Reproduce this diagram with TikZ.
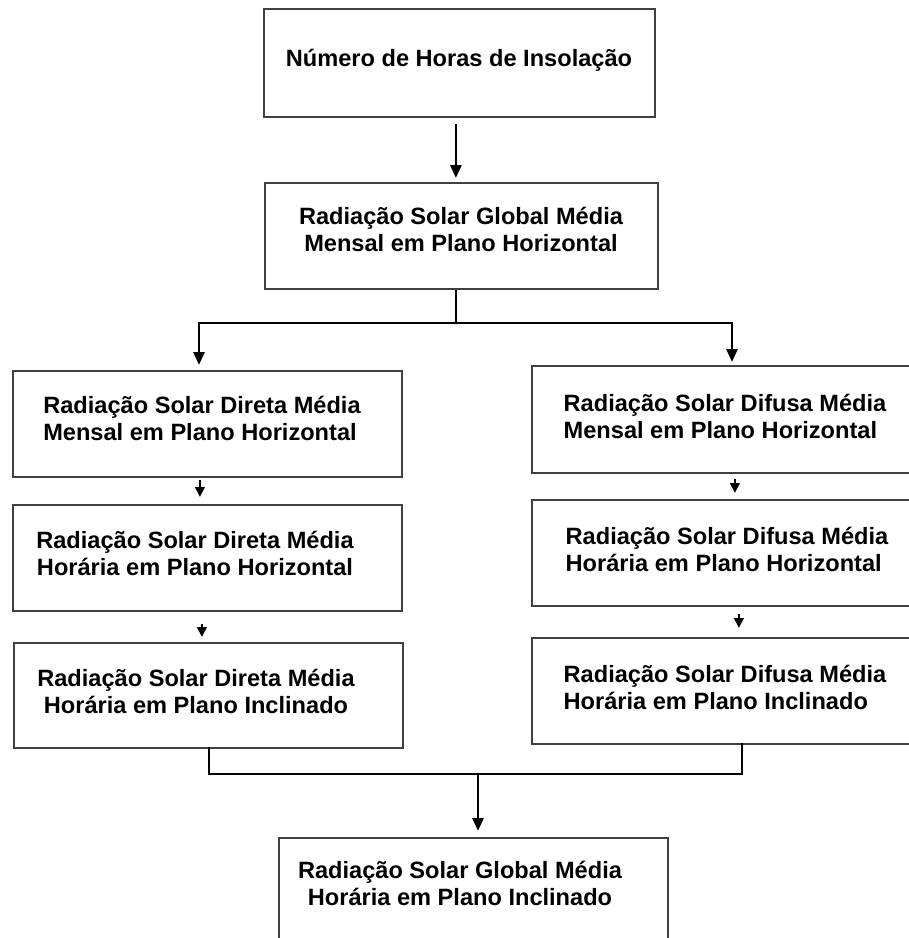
\documentclass[tikz,border=0pt]{standalone}
\usepackage{fontspec}
\setmainfont{Liberation Sans}
\usetikzlibrary{arrows.meta}
\definecolor{frame}{HTML}{404040}
\tikzset{
  box/.style={draw=frame, line width=1.8pt, rectangle, anchor=north west,
    inner sep=0pt, fill=none},
  txt/.style={font=\fontsize{23.6}{27}\selectfont\bfseries, align=center,
    inner sep=0pt, text=black},
  ltxt/.style={txt, align=left},
  link/.style={draw=black, line width=2.8pt},
  arr/.style={link, -{Triangle[width=11pt,length=13pt]}},
  sarr/.style={link, -{Triangle[width=9.5pt,length=10pt]}},
}
\begin{document}
\begin{tikzpicture}[x=1pt, y=-1pt]
\useasboundingbox (0,0) rectangle (909,938);
\clip (0,0) rectangle (909,938);
\fill[white] (0,0) rectangle (909,938);

% boxes (top-left corner, width, height)
\node[box, minimum width=391pt, minimum height=108pt] (top) at (263,8) {};
\node[box, minimum width=393pt, minimum height=106pt] (glob) at (264,182) {};
\node[box, minimum width=389pt, minimum height=106pt] (l1) at (12,370) {};
\node[box, minimum width=389pt, minimum height=106pt] (l2) at (12,504) {};
\node[box, minimum width=389pt, minimum height=105pt] (l3) at (13,642) {};
\node[box, minimum width=409pt, minimum height=107pt] (r1) at (531,365) {};
\node[box, minimum width=409pt, minimum height=106pt] (r2) at (531,499) {};
\node[box, minimum width=409pt, minimum height=106pt] (r3) at (531,637) {};
\node[box, minimum width=389pt, minimum height=130pt] (bot) at (278,837) {};

% labels
\node[txt] (ttop) at (459,60) {Número de Horas de Insolação};
\node[txt] (tglob) at (461,229) {Radiação Solar Global Média\\Mensal em Plano Horizontal};
\node[ltxt] (tl1) at (202,418) {Radiação Solar Direta Média\\Mensal em Plano Horizontal};
\node[txt] (tl2) at (195,553) {Radiação Solar Direta Média\\Horária em Plano Horizontal};
\node[txt] (tl3) at (196,691) {Radiação Solar Direta Média\\Horária em Plano Inclinado};
\node[ltxt] (tr1) at (725,416) {Radiação Solar Difusa Média\\Mensal em Plano Horizontal};
\node[ltxt] (tr2) at (727,549) {Radiação Solar Difusa Média\\Horária em Plano Horizontal};
\node[ltxt] (tr3) at (725,687) {Radiação Solar Difusa Média\\Horária em Plano Inclinado};
\node[txt] (tbot) at (460,883) {Radiação Solar Global Média\\Horária em Plano Inclinado};

% junction points of the connectors
\coordinate (bj) at (456,323);
\coordinate (bl) at (199,323);
\coordinate (br) at (732,323);
\coordinate (ml) at (209,774);
\coordinate (mr) at (742,774);
\coordinate (mj) at (478,774);

% top arrow
\draw[arr, shorten <=6pt, shorten >=4pt] ([xshift=-3.5pt]top.south) -- ([xshift=-5.5pt]glob.north);

% branching into direct and diffuse
\draw[link] (glob.south -| bj) -- (bj);
\draw[link, line cap=rect] (bl) -- (br);
\draw[arr, shorten >=5pt] (bl) -- (bl |- l1.north);
\draw[arr, shorten >=3pt] (br) -- (br |- r1.north);

% left column
\draw[sarr, shorten <=2pt, shorten >=7pt] ([xshift=-7.5pt]l1.south) -- ([xshift=-7.5pt]l2.north);
\draw[sarr, shorten <=12pt, shorten >=5pt] ([xshift=-5.5pt]l2.south) -- ([xshift=-6.5pt]l3.north);

% right column
\draw[sarr, shorten <=5pt, shorten >=6pt] ([xshift=-1.5pt]r1.south) -- ([xshift=-1.5pt]r2.north);
\draw[sarr, shorten <=7pt, shorten >=9pt] ([xshift=2.5pt]r2.south) -- ([xshift=2.5pt]r3.north);

% merging into the final result
\draw[link, line cap=rect] (l3.south -| ml) -- (ml) -- (mr) -- (r3.south -| mr);
\draw[arr, shorten >=6pt] (mj) -- (mj |- bot.north);
\end{tikzpicture}
\end{document}
